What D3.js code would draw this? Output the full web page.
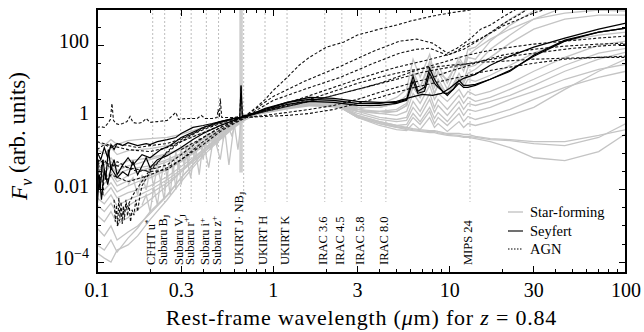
<!DOCTYPE html>
<html>
<head>
<meta charset="utf-8">
<script src="https://cdn.jsdelivr.net/npm/d3@7"></script>
<style>
body { margin: 0; background: #fff; }
text { font-family: "Liberation Serif", "DejaVu Serif", serif; fill: #000; }
</style>
</head>
<body>
<svg id="chart" width="644" height="332"></svg>
<script>
// ---- data (rest-frame wavelength in micron, F_nu in arbitrary units) ----

// common wavelength grid of the star-forming templates
const sfLam = [0.1, 0.11, 0.12, 0.13, 0.15, 0.17, 0.2, 0.25, 0.3, 0.35, 0.4, 0.5, 0.6, 0.7, 0.9, 1.2, 1.6, 2.2,
  3, 4, 5, 5.7, 6.2, 6.8, 7.7, 8.2, 8.6, 9.7, 11.3, 12, 12.7, 14, 17, 22, 30, 45, 70, 100];

const sf01 = [0.041,0.030,0.046,0.028,0.036,0.041,0.046,0.068,0.1,0.147,0.215,0.41,0.68,1,1.56,2.30,2.97,2.45,
  1.67,2.30,3.59,6.0,41,12.9,56,14.7,27.8,8.8,46,27.8,77,88,215,527,1292,3600,6800,9400];
const sf02 = [0.01,0.0068,0.0114,0.006,0.0083,0.01,0.0129,0.023,0.044,0.077,0.129,0.32,0.60,0.94,1.47,2.15,2.61,2.15,
  1.90,1.90,2.45,3.16,19,6.8,36,10,19,6.0,31.6,19,46,41,129,359,880,1900,3600,4640];
const sf03 = [0.129,0.1,0.147,0.094,0.121,0.129,0.138,0.167,0.215,0.30,0.38,0.60,0.83,1.07,1.67,2.61,3.37,2.78,
  1.47,1.47,1.67,2.45,11.4,4.64,21.5,6.8,11.4,4.08,16.7,10,24.5,27.8,77,190,527,1136,1668,1900];
const sf04 = [0.0215,0.0147,0.0245,0.0129,0.0178,0.020,0.0245,0.038,0.064,0.107,0.167,0.36,0.64,1,1.47,2.15,2.78,2.30,
  1.90,1.90,2.45,4.08,14.7,6.8,27.8,10,16.7,11.4,36,24.5,53,77,147,278,527,774,938,880];
const sf05 = [0.068,0.049,0.077,0.046,0.064,0.068,0.077,0.1,0.138,0.19,0.26,0.46,0.73,1,1.56,2.45,3.16,2.61,
  1.47,1.29,1.47,2.15,6.8,3.59,11.4,4.64,7.74,4.64,12.9,8.8,16.7,21.5,46,114,278,527,681,681];
const sf06 = [0.215,0.167,0.245,0.178,0.23,0.245,0.26,0.28,0.34,0.435,0.53,0.68,0.88,1.07,1.56,2.45,3.16,2.78,
  1.67,1.29,1.14,1.47,4.64,2.45,7.74,3.16,4.64,2.78,6.0,3.59,5.27,4.08,5.27,8.8,19,46,100,129];
const sf07 = [0.0038,0.0025,0.0043,0.0022,0.0036,0.0053,0.0077,0.0157,0.0316,0.060,0.107,0.28,0.56,0.94,1.47,2.15,2.61,2.15,
  1.47,1,0.88,1,2.78,1.47,4.64,1.90,3.16,1.67,4.08,2.45,3.59,2.78,3.59,6.0,11.4,27.8,60,82];
const sf08 = [0.0138,0.01,0.0157,0.0088,0.0129,0.0167,0.0215,0.036,0.060,0.1,0.157,0.36,0.64,1,1.47,2.15,2.78,2.30,
  1.29,0.88,0.77,0.83,1.90,1.07,3.16,1.38,2.15,1.14,2.78,1.67,2.45,2.15,2.78,4.08,7.74,19,41,64];
const sf09 = [0.049,0.036,0.060,0.034,0.046,0.053,0.068,0.094,0.129,0.178,0.245,0.435,0.73,1,1.47,2.30,2.97,2.45,
  1.14,0.77,0.60,0.64,1.29,0.77,1.90,0.94,1.38,0.77,1.90,1.14,1.67,1.47,1.90,3.16,5.27,11.4,21.5,29.7];
const sf10 = [0.002,0.0013,0.0025,0.00114,0.0017,0.0028,0.0053,0.0129,0.0316,0.068,0.129,0.32,0.60,0.94,1.56,2.30,2.78,2.30,
  1.67,1.47,1.47,2.15,7.74,3.59,14.7,4.64,8.8,4.08,11.4,6.8,11.4,10,14.7,27.8,60,129,190,230];
const sf11 = [8.8e-4,5.3e-4,0.001,4.1e-4,6.8e-4,0.001,0.0022,0.0068,0.0215,0.049,0.107,0.26,0.56,0.94,1.56,2.45,2.97,2.45,
  1,0.68,0.53,0.53,1,0.64,1.47,0.68,1,0.60,1.29,0.77,1.07,0.88,1.14,1.67,3.16,6.8,12.9,19];
const sf12 = [0.026,0.019,0.0316,0.0167,0.0245,0.0316,0.041,0.06,0.088,0.129,0.19,0.38,0.68,1,1.47,2.30,2.78,2.45,
  1,0.60,0.46,0.435,0.68,0.46,1,0.53,0.68,0.41,0.77,0.53,0.68,0.60,0.77,1.14,1.90,6.0,19,41];
const sf13 = [1.8e-4,1.29e-4,1e-4,2.15e-4,3e-4,5.3e-4,0.0015,0.0053,0.0167,0.041,0.088,0.245,0.53,0.88,1.56,2.45,2.97,2.45,
  1.14,0.77,0.60,0.53,0.49,0.46,0.435,0.435,0.41,0.36,0.36,0.34,0.34,0.30,0.26,0.245,0.215,0.215,0.32,0.46];
const sf14 = [3e-4,2.15e-4,4.1e-4,1.9e-4,4.6e-4,8.8e-4,0.0025,0.0072,0.0215,0.049,0.107,0.26,0.56,0.94,1.56,2.45,2.97,2.45,
  1,0.68,0.53,0.46,0.435,0.41,0.38,0.38,0.36,0.32,0.30,0.28,0.28,0.26,0.215,0.147,0.077,0.064,0.114,0.36];
const sf15 = [0.006,0.0041,0.0072,0.0036,0.0053,0.0068,0.01,0.019,0.036,0.068,0.121,0.30,0.60,0.94,1.47,2.30,2.78,2.30,
  1.07,0.73,0.56,0.49,0.46,0.435,0.41,0.41,0.38,0.34,0.32,0.30,0.30,0.28,0.245,0.23,0.19,0.167,0.28,0.68];

// high-resolution star-forming spectra in the UV/optical
const sfHiLamA = [0.15,0.16,0.17,0.18,0.19,0.2,0.21,0.22,0.23,0.24,0.25,0.26,0.27,0.28,0.29,0.3,0.31,0.32,0.33,0.34,
  0.36,0.38,0.4,0.42,0.44,0.46,0.48,0.5,0.52,0.55,0.58,0.62,0.66,0.7];
const sfHiA = [0.0138,0.0215,0.0072,0.026,0.01,0.036,0.0129,0.046,0.0167,0.06,0.0215,0.088,0.028,0.114,0.036,0.147,0.053,
  0.167,0.046,0.215,0.068,0.28,0.068,0.36,0.129,0.46,0.167,0.53,0.245,0.64,0.32,0.77,1,1.07];
const sfHiLamB = [0.18,0.19,0.2,0.21,0.22,0.23,0.24,0.25,0.26,0.27,0.28,0.29,0.3,0.32,0.34,0.36,0.38,0.4,0.43,0.46,
  0.5,0.53,0.56,0.6,0.63,0.66,0.7];
const sfHiB = [0.0038,0.0072,0.0025,0.0114,0.0038,0.019,0.0053,0.0316,0.0072,0.049,0.01,0.068,0.0138,0.094,0.0215,0.147,
  0.026,0.215,0.041,0.32,0.068,0.46,0.049,0.68,0.129,0.94,1.07];

// dense overlap of star-forming templates in the near-IR
const bandLam = [0.7, 0.9, 1.2, 1.6, 2.2, 3];
const bandHi = [1.14, 1.67, 2.78, 3.83, 3.37, 2.45];
const bandLo = [1, 1.29, 1.67, 2.02, 1.90, 1.47];

// Seyfert templates
const sey1Lam = [0.1,0.105,0.11,0.115,0.12,0.125,0.13,0.14,0.15,0.17,0.19,0.2,0.22,0.25,0.28,0.3,0.35,0.4,0.45,0.5,0.6,
  0.645,0.656,0.667,0.7,0.9,1.2,1.6,2.2,3,4,5,5.7,6.2,6.6,7.2,7.7,8.2,8.6,9.3,9.7,10.5,11.3,12,12.7,14,17,22,30,45,70,100];
const sey1 = [0.114,0.068,0.147,0.077,0.178,0.129,0.19,0.167,0.20,0.167,0.19,0.178,0.215,0.245,0.28,0.36,0.53,0.60,0.68,0.77,0.94,
  1,7.74,1.07,1.14,1.67,2.61,3.59,3.37,2.78,2.61,2.61,3.16,13.8,5.27,6.8,23,11.4,7.74,4.64,4.64,6.0,10.7,7.74,7.74,8.25,11.4,19,53,138,230,297];
const sey2Lam = [0.1,0.103,0.106,0.11,0.115,0.12,0.13,0.14,0.15,0.16,0.17,0.19,0.2,0.22,0.25,0.3,0.35,0.4,0.5,0.6,0.65,
  0.7,0.9,1.2,1.6,2.2,3,4,5,6,7,8,9,10,11,12,14,17,22,30,45,70,100];
const sey2 = [0.0028,0.026,0.0053,0.036,0.0138,0.041,0.0215,0.0316,0.0245,0.06,0.026,0.077,0.041,0.068,0.088,0.147,0.245,0.36,0.60,0.83,1,
  1.07,1.78,2.61,3.16,2.97,2.45,2.45,2.78,3.59,4.35,4.08,4.64,6.4,9.4,12.1,15.6,27.8,49.6,88,157,278,408];
const sey3Lam = [0.1,0.104,0.108,0.112,0.116,0.12,0.125,0.13,0.14,0.15,0.16,0.18,0.2,0.23,0.26,0.3,0.4,0.5,0.6,0.7,0.9,
  1.2,1.6,2.2,3,4,5,5.7,6.2,6.6,7.2,7.7,8.2,8.6,9.7,11.3,12,12.7,14,17,22,30,45,70,100];
const sey3 = [0.049,0.01,0.068,0.019,0.129,0.036,0.068,0.026,0.049,0.077,0.049,0.094,0.077,0.129,0.167,0.28,0.53,0.77,0.94,1.07,1.56,
  2.30,2.78,2.61,2.15,2.15,2.45,2.97,10,4.64,5.27,16.7,8.8,6.8,4.08,8.8,6.8,6.8,7.74,11.4,20.2,49.6,129,230,297];

// AGN templates
const agn1Lam = [0.1,0.105,0.11,0.115,0.119,0.1216,0.124,0.128,0.133,0.14,0.148,0.154,0.16,0.17,0.18,0.19,0.2,0.22,0.25,
  0.28,0.29,0.32,0.37,0.39,0.41,0.45,0.48,0.486,0.495,0.5,0.51,0.55,0.6,0.645,0.656,0.667,0.7,0.9,1.2,1.6,2.2,3,4,5,6,8,
  10,12,15,20,30,45,70,100];
const agn1 = [0.53,0.56,0.53,0.68,0.88,2.45,0.83,0.68,0.64,0.68,0.77,1.07,0.73,0.68,0.73,0.94,0.73,0.77,0.83,
  1.38,0.88,0.94,0.94,1.14,0.94,0.94,1,1.67,1,3.37,1,1,1,1.07,7.3,1.14,1.14,1.56,2.15,3.16,5.27,8.8,12.9,16.7,20.2,24.5,
  27.8,29.7,33.7,36,41,43.6,46,46];
const agn2Lam = [0.13,0.14,0.15,0.16,0.17,0.2,0.25,0.3,0.35,0.4,0.5,0.6,0.7,0.8,0.9,1,1.2,1.4,1.6,2,2.5,3,4,5,6,8,10,13,16,20,30];
const agn2 = [0.001,0.0023,0.0038,0.0072,0.0114,0.036,0.107,0.215,0.34,0.46,0.68,0.88,1.14,1.90,3.16,5.62,12.9,27.8,46,88,121,
  190,278,359,464,640,774,938,1136,1377,1900];
const agn3Lam = [0.125,0.127,0.129,0.131,0.133,0.135,0.137,0.139,0.141,0.143,0.146,0.149,0.152,0.155,0.158,0.162,0.166,
  0.17,0.175,0.18,0.2,0.25,0.3,0.4,0.5,0.6,0.7,0.9,1.2,1.6,2.2,3,5,7,10,15,20,30,50,100];
const agn3 = [0.0053,0.0013,0.0038,0.001,0.006,0.0017,0.0046,0.00114,0.0036,0.0015,0.0053,0.0019,0.0041,0.0013,0.0028,
  0.002,0.0053,0.0025,0.0068,0.0129,0.0316,0.114,0.245,0.49,0.73,0.94,1.07,1.47,2.02,2.78,4.08,6.0,11.4,17.8,24.5,36,46,60,82,107];
const agn4Lam = [0.1,0.11,0.12,0.13,0.15,0.17,0.2,0.25,0.3,0.35,0.4,0.5,0.6,0.7,0.9,1.2,1.6,2.2,3,4,5,6,7,8,10,12,15,20,30,45,70,100];
const agn4 = [0.129,0.178,0.147,0.19,0.167,0.147,0.167,0.19,0.26,0.36,0.53,0.73,0.94,1.07,1.47,2.02,2.78,4.08,6.0,8.8,12.9,
  17.8,23,27.8,38,49.6,64,82,107,129,157,178];
const agn5Lam = [0.1,0.11,0.12,0.13,0.15,0.17,0.2,0.25,0.3,0.35,0.4,0.5,0.6,0.7,1,1.5,2.4,3.7,5.2,6.5,8,9.7,11,13,15,17,20,25,30];
const agn5 = [0.049,0.068,0.036,0.06,0.041,0.0316,0.036,0.049,0.094,0.167,0.28,0.53,0.77,1.14,3.83,10,26,68,129,147,114,
  60,82,147,278,359,599,1136,1900];
const agn6Lam = [0.1,0.102,0.104,0.106,0.108,0.11,0.115,0.12,0.15,0.2,0.25,0.3,0.4,0.5,0.6,0.7,0.9,1.2,1.6,2.2,3,4,5,6,8,
  10,12,15,20,30,45,70,100];
const agn6 = [0.0138,0.068,0.01,0.049,0.0072,0.036,0.019,0.026,0.0167,0.026,0.041,0.068,0.178,0.41,0.68,1,1.07,1.14,1.29,
  1.67,2.45,3.59,4.95,6.4,8.8,11.4,13.8,17.8,23,31.6,41,46,49.6];
const agn7Lam = [0.1,0.12,0.15,0.2,0.25,0.3,0.4,0.5,0.6,0.7,0.9,1.2,1.6,2.2,3,4,5,6,8,10,12,15,20,30,45,70,100];
const agn7 = [0.068,0.049,0.041,0.0316,0.036,0.068,0.215,0.46,0.73,1,1.14,1.38,1.67,2.15,3.16,4.95,6.8,8.8,12.9,19,24.5,
  36,53,77,94,107,114];
const agn8Lam = [0.1,0.12,0.15,0.2,0.25,0.3,0.4,0.5,0.6,0.7,1,1.5,2.4,3.7,5.2,6.5,7.7,9.7,11,12,14,17,20,30,45,70];
const agn8 = [0.215,0.167,0.129,0.114,0.147,0.215,0.38,0.60,0.83,1.07,2.97,6.0,12.9,31.6,60,77,82,53,68,94,129,215,337,
  774,1468,1900];
const agn9Lam = [0.3,0.4,0.5,0.6,0.7,1,1.5,2.2,3,4,5,7,10,12,15,20,25,30,40];
const agn9 = [0.129,0.28,0.53,0.77,1.07,1.90,3.59,6.8,11.4,17.8,24.5,36,56,77,147,383,720,1292,2600];

// filters (rest frame for z = 0.84)
const filterName = ["CFHT u", "Subaru B", "Subaru V", "Subaru r", "Subaru i", "Subaru z", "UKIRT J\u00b7 NB",
  "UKIRT H", "UKIRT K", "IRAC 3.6", "IRAC 4.5", "IRAC 5.8", "IRAC 8.0", "MIPS 24"];
const filterSup = ["*", "", "", "+", "+", "+", "", "", "", "", "", "", "", ""];
const filterSub = ["", "J", "J", "", "", "", "J", "", "", "", "", "", "", ""];
const filterLam = [0.207, 0.242, 0.298, 0.342, 0.417, 0.489, 0.679, 0.897, 1.196, 1.957, 2.446, 3.152, 4.348, 13.04];
const nbLam = 0.656;

const xTickLabels = [0.1, 0.3, 1, 3, 10, 30, 100];
const yTickLabels = [1e-4, 0.01, 1, 100];

// ---- drawing ----
const L = 97, R = 626, T = 9, B = 273;
const svg = d3.select("#chart");
const x = d3.scaleLog().domain([0.1, 100]).range([L, R]);
const y = d3.scaleLog().domain([5e-5, 1000]).range([B, T]);

svg.append("defs").append("clipPath").attr("id", "plotclip")
  .append("rect").attr("x", L).attr("y", T).attr("width", R - L).attr("height", B - T);

const plot = svg.append("g").attr("clip-path", "url(#plotclip)");

// filter lines
plot.selectAll(".filt").data(filterLam).enter().append("line")
  .attr("x1", d => x(d)).attr("x2", d => x(d))
  .attr("y1", T).attr("y2", y(4.6e-3))
  .attr("stroke", "#bdbdbd").attr("stroke-width", 1)
  .attr("stroke-dasharray", "2,2");

plot.append("line")
  .attr("x1", x(nbLam)).attr("x2", x(nbLam))
  .attr("y1", T).attr("y2", y(0.03))
  .attr("stroke", "#cfcfcf").attr("stroke-width", 3.5);

const line = d3.line().x(d => x(d[0])).y(d => y(d[1]));

// near-IR band
plot.append("path")
  .datum(d3.zip(bandLam, bandHi, bandLo))
  .attr("d", d3.area().x(d => x(d[0])).y0(d => y(d[2])).y1(d => y(d[1])))
  .attr("fill", "#bdbdbd");

const sfSeries = [sf01, sf02, sf03, sf04, sf05, sf06, sf07, sf08, sf09, sf10, sf11, sf12, sf13, sf14, sf15];
plot.selectAll(".sf").data(sfSeries).enter().append("path")
  .attr("d", d => line(d3.zip(sfLam, d)))
  .attr("fill", "none").attr("stroke", "#c4c4c4").attr("stroke-width", 1.3);

plot.selectAll(".sfhi").data([[sfHiLamA, sfHiA], [sfHiLamB, sfHiB]]).enter().append("path")
  .attr("d", d => line(d3.zip(d[0], d[1])))
  .attr("fill", "none").attr("stroke", "#c4c4c4").attr("stroke-width", 1.3);

const agnSeries = [[agn1Lam, agn1], [agn2Lam, agn2], [agn3Lam, agn3], [agn4Lam, agn4], [agn5Lam, agn5],
  [agn6Lam, agn6], [agn7Lam, agn7], [agn8Lam, agn8], [agn9Lam, agn9]];
plot.selectAll(".agn").data(agnSeries).enter().append("path")
  .attr("d", d => line(d3.zip(d[0], d[1])))
  .attr("fill", "none").attr("stroke", "#111").attr("stroke-width", 1.1)
  .attr("stroke-dasharray", "3,2");

const seySeries = [[sey1Lam, sey1], [sey2Lam, sey2], [sey3Lam, sey3]];
plot.selectAll(".sey").data(seySeries).enter().append("path")
  .attr("d", d => line(d3.zip(d[0], d[1])))
  .attr("fill", "none").attr("stroke", "#000").attr("stroke-width", 1.2);

// filter labels
filterName.forEach((name, i) => {
  const lx = (i === 6 ? x(nbLam) : x(filterLam[i])) - 2;
  const t = svg.append("text")
    .attr("transform", `translate(${lx},265) rotate(-90)`)
    .attr("dy", "0.35em")
    .style("font-size", "12.5px");
  t.append("tspan").text(name);
  if (filterSup[i]) t.append("tspan").attr("dy", "-0.45em").style("font-size", "9px").text(filterSup[i]);
  if (filterSub[i]) t.append("tspan").attr("dy", "0.3em").style("font-size", "9px").text(filterSub[i]);
});

// frame and ticks
const ax = svg.append("g").attr("stroke", "#000").attr("shape-rendering", "crispEdges");
ax.append("rect").attr("x", L).attr("y", T).attr("width", R - L).attr("height", B - T)
  .attr("fill", "none").attr("stroke-width", 1.2);

const xTicks = [];
[0.1, 1, 10].forEach(dec => { for (let k = 1; k < 10; k++) xTicks.push(k * dec); });
xTicks.push(100);
xTicks.forEach(v => {
  const major = xTickLabels.some(t => Math.abs(t - v) / v < 1e-6);
  const len = major ? 7 : 4;
  ax.append("line").attr("x1", x(v)).attr("x2", x(v)).attr("y1", B).attr("y2", B - len);
  ax.append("line").attr("x1", x(v)).attr("x2", x(v)).attr("y1", T).attr("y2", T + len);
});

for (let k = -8; k <= 6; k++) {
  const v = Math.pow(10, k / 2);
  const len = yTickLabels.some(t => Math.abs(t - v) / v < 1e-6) ? 7 : 4;
  ax.append("line").attr("x1", L).attr("x2", L + len).attr("y1", y(v)).attr("y2", y(v));
  ax.append("line").attr("x1", R).attr("x2", R - len).attr("y1", y(v)).attr("y2", y(v));
}

// tick labels
svg.selectAll(".xl").data(xTickLabels).enter().append("text")
  .attr("x", d => x(d)).attr("y", 297)
  .attr("text-anchor", "middle").style("font-size", "20px")
  .text(d => d);

yTickLabels.forEach(v => {
  const t = svg.append("text").attr("x", 89).attr("y", y(v) + 3)
    .attr("text-anchor", "end").style("font-size", "20px");
  if (v < 1e-3) {
    t.append("tspan").text("10");
    t.append("tspan").attr("dy", "-0.5em").style("font-size", "14px").text("\u22124");
  } else {
    t.text(v);
  }
});

// axis titles
const xt = svg.append("text").attr("x", (L + R) / 2).attr("y", 325)
  .attr("text-anchor", "middle").style("font-size", "22px").style("letter-spacing", "0.8px");
xt.append("tspan").text("Rest-frame wavelength (");
xt.append("tspan").style("font-style", "italic").text("\u03bc");
xt.append("tspan").text("m) for ");
xt.append("tspan").style("font-style", "italic").text("z");
xt.append("tspan").text(" = 0.84");

const yt = svg.append("text").attr("transform", "translate(27,136) rotate(-90)")
  .attr("text-anchor", "middle").style("font-size", "23px");
yt.append("tspan").style("font-style", "italic").text("F");
yt.append("tspan").attr("dy", "0.3em").style("font-style", "italic").style("font-size", "16px").text("\u03bd");
yt.append("tspan").attr("dy", "-0.3em").text(" (arb. units)");

// legend
const legendLabels = ["Star-forming", "Seyfert", "AGN"];
const legendY = [212, 231, 249];
const legendColor = ["#c4c4c4", "#333", "#555"];
const legendDash = [null, null, "1.5,1.5"];
legendLabels.forEach((lab, i) => {
  svg.append("line").attr("x1", 508).attr("x2", 523)
    .attr("y1", legendY[i]).attr("y2", legendY[i])
    .attr("stroke", legendColor[i]).attr("stroke-width", 1.4)
    .attr("stroke-dasharray", legendDash[i]);
  svg.append("text").attr("x", 530).attr("y", legendY[i] + 5)
    .style("font-size", "14.5px").text(lab);
});
</script>
</body>
</html>
